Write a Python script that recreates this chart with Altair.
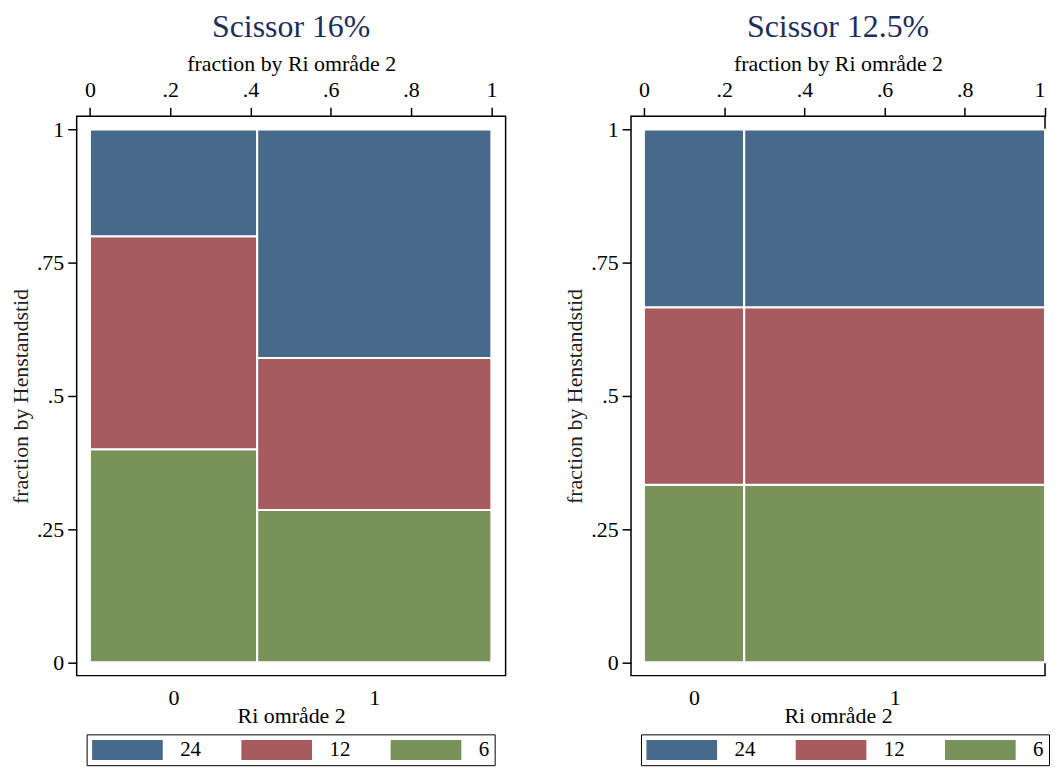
import altair as alt
import pandas as pd

# ---- data ----
groups = ["0", "1"]
categories = ["24", "12", "6"]          # legend order (top of stack first)
stack_order = ["6", "12", "24"]         # bottom to top
colors = ["#486a8a", "#a65c5f", "#79925a"]

# Scissor 16%
left_group_share = [0.4167, 0.5833]
left_share = {"6": [0.40, 0.2857], "12": [0.40, 0.2857], "24": [0.20, 0.4286]}

# Scissor 12.5%
right_group_share = [0.25, 0.75]
right_share = {"6": [0.3333, 0.3333], "12": [0.3333, 0.3333], "24": [0.3334, 0.3334]}

x_ticks = [0, 0.2, 0.4, 0.6, 0.8, 1]
y_ticks = [0, 0.25, 0.5, 0.75, 1]

FONT = "Liberation Serif"
FS = 22
strip = "replace(toString(datum.value), '0.', '.')"


def build_tables(gshare, share):
    rows, centers = [], []
    x0 = 0.0
    for gi, g in enumerate(groups):
        x1 = x0 + gshare[gi]
        centers.append({"grp": g, "xc": (x0 + x1) / 2})
        y0 = 0.0
        for c in stack_order:
            y1 = y0 + share[c][gi]
            rows.append({"grp": g, "cat": c, "x0": x0, "x1": x1, "y0": y0, "y1": y1})
            y0 = y1
        x0 = x1
    return pd.DataFrame(rows), pd.DataFrame(centers)


def panel(title, gshare, share, width, xdomain):
    df, cdf = build_tables(gshare, share)
    split = gshare[0]
    xscale = alt.Scale(domain=xdomain, nice=False, zero=False)
    rects = alt.Chart(df).mark_rect(stroke="white", strokeWidth=2).encode(
        x=alt.X("x0:Q", scale=xscale,
                axis=alt.Axis(orient="top", title="fraction by Ri område 2",
                              values=x_ticks, labelExpr=strip, grid=False, domain=False,
                              tickSize=9, tickWidth=1.5, tickColor="black",
                              labelFontSize=FS, titleFontSize=FS, labelPadding=6,
                              titlePadding=3, labelFont=FONT, titleFont=FONT,
                              titleFontWeight="normal", labelColor="black", titleColor="black")),
        x2="x1:Q",
        y=alt.Y("y0:Q", scale=alt.Scale(domain=[-0.025, 1.025], nice=False, zero=False),
                axis=alt.Axis(title="fraction by Henstandstid", values=y_ticks, labelExpr=strip,
                              grid=False, domain=False, tickSize=9, tickWidth=1.5,
                              tickColor="black", labelFontSize=FS, titleFontSize=FS,
                              labelPadding=4, titlePadding=4, labelFont=FONT, titleFont=FONT,
                              titleFontWeight="normal", labelColor="black", titleColor="#222")),
        y2="y1:Q",
        color=alt.Color("cat:N", scale=alt.Scale(domain=categories, range=colors),
                        legend=alt.Legend(orient="none", legendX=10, legendY=621,
                                          direction="horizontal", columns=3, title=None,
                                          strokeColor="black", padding=5,
                                          symbolType="M-1,-1L6.1,-1L6.1,1L-1,1Z",
                                          symbolSize=400, symbolStrokeWidth=0,
                                          symbolOpacity=1, labelFont=FONT, labelFontSize=21,
                                          labelColor="black", labelOffset=68,
                                          columnPadding=40)),
    )
    centers = alt.Chart(cdf).mark_point(opacity=0).encode(
        x=alt.X("xc:Q", scale=xscale,
                axis=alt.Axis(orient="bottom", title="Ri område 2",
                              values=list(cdf["xc"]),
                              labelExpr=f"datum.value < {split} ? '{groups[0]}' : '{groups[1]}'",
                              grid=False, domain=False, ticks=False, labelPadding=12,
                              labelFontSize=FS, titleFontSize=FS, titlePadding=-3,
                              labelFont=FONT, titleFont=FONT, titleFontWeight="normal",
                              labelColor="black", titleColor="black")),
    )
    return alt.layer(rects, centers).resolve_axis(x="independent").properties(
        width=width, height=562,
        title=alt.TitleParams(title, font=FONT, fontSize=32, fontWeight="normal",
                              color="#1c2e5a", anchor="middle", offset=9),
    )


chart = alt.hconcat(
    panel("Scissor 16%", left_group_share, left_share, 431, [-0.033, 1.0355]),
    panel("Scissor 12.5%", right_group_share, right_share, 416, [-0.0322, 1.0]),
    spacing=126, bounds="flush",
).resolve_scale(color="independent").properties(padding=0, background="white").configure_view(
    stroke="black", strokeWidth=1.5
)

chart.save("out.html", embed_options={"renderer": "svg", "actions": False})
